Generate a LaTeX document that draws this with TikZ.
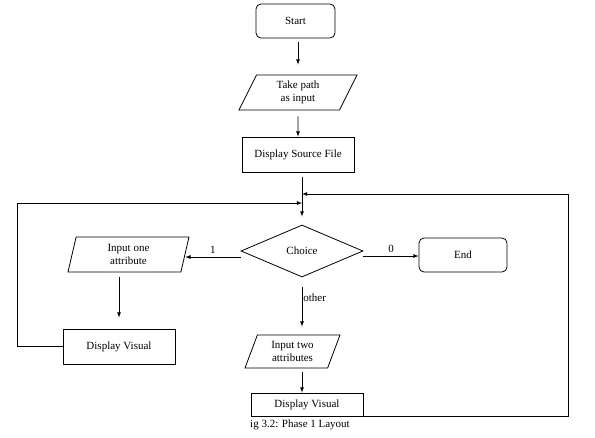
\documentclass[tikz,border=0pt]{standalone}
\usepackage{fontspec}
\setmainfont{Liberation Serif}
\newfontfamily\diagfont{Liberation Serif}
\usetikzlibrary{shapes.geometric}

\tikzset{
  term/.style={draw, rounded corners=5pt, minimum width=79pt, minimum height=34pt},
  proc/.style={draw, minimum width=112pt, minimum height=35pt},
  io/.style={draw, trapezium, trapezium stretches body, trapezium left angle=#1,
    trapezium right angle={180-#1}, align=center, inner sep=1pt},
  choice/.style={draw, diamond, minimum width=122pt, minimum height=52pt, inner sep=0pt}
}

\begin{document}
\begin{tikzpicture}[>=latex, x=1pt, y=-1pt, line width=0.8pt,
    font=\diagfont\fontsize{11}{13}\selectfont]
  \useasboundingbox (0,0) rectangle (595,437);

  % Main column
  \node[term] (start) at (295.5,21) {Start};
  \node[io=55, minimum width=118pt, minimum height=35pt] (path) at (298,92.5) {Take path\\as input};
  \node[proc] (src) at (298,154.5) {Display Source File};
  \node[choice] (choice) at (302,251) {Choice};

  % Branches
  \node[io=70, minimum width=121pt, minimum height=35pt] (one) at (128.5,254.5) {Input one\\attribute};
  \node[proc] (dvl) at (119,346.5) {Display Visual};
  \node[term, minimum width=88pt] (endn) at (463,255) {End};
  \node[io=61, minimum width=95pt, minimum height=33pt] (two) at (292.5,351.5) {Input two\\attributes};
  \node[proc, minimum height=23pt] (dvb) at (307,404.5) {Display Visual};
  \node (cap) at (300,425) {ig 3.2: Phase 1 Layout};

  % Loop corners
  \coordinate (leftc) at (17,203);
  \coordinate (rightc) at (568,194);

  % Connectors
  \draw[->, shorten <=4pt, shorten >=10pt] (start.south -| path.north) -- (path.north);
  \draw[->, shorten <=6pt] (path.south) -- (src.north);
  \draw[->, shorten <=5pt, shorten >=8pt] (src.south -| choice.north) -- (choice.north);
  \draw[->] ([yshift=-6pt]choice.west) -- ([yshift=-6pt]choice.west -| one.east)
    node[midway, above] {1};
  \draw[->] ([yshift=-5pt]choice.east) -- ([yshift=-5pt]choice.east -| endn.west)
    node[midway, above] {0};
  \draw[->, shorten <=10pt, shorten >=8pt] (choice.south) -- (choice.south |- two.north)
    node[pos=0.36, anchor=west, inner sep=1pt] {other};
  \draw[->, shorten <=4pt] (choice.south |- two.south) -- (choice.south |- dvb.north);
  \draw[->, shorten <=5pt, shorten >=11pt] (dvl.north |- one.south) -- (dvl.north);

  % Loops back
  \draw[->] (dvl.west) -| (leftc) -- (leftc -| choice.north);
  \draw[->] (dvb.south east) -| (rightc) -- (rightc -| choice.north);
\end{tikzpicture}
\end{document}
